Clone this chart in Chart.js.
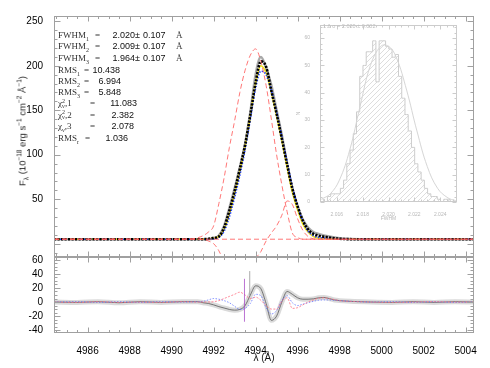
<!DOCTYPE html>
<html><head><meta charset="utf-8">
<script src="https://cdn.jsdelivr.net/npm/chart.js@4.4.1/dist/chart.umd.min.js"></script>
<style>
html,body{margin:0;padding:0;background:#fff;}
#wrap{position:relative;width:490px;height:368px;overflow:hidden;background:#fff;}
#main{position:absolute;left:0;top:0;}
#inset{position:absolute;left:296px;top:18px;}
.t{position:absolute;font-size:9px;line-height:10px;white-space:nowrap;}
.lab{font-family:"Liberation Serif","DejaVu Serif",serif;color:#333;}
.num{font-family:"Liberation Sans",Arial,sans-serif;color:#111;}
.t sub,.t sup{font-size:6px;line-height:0;}
.ss{display:inline-block;vertical-align:middle;line-height:5px;font-size:6px;text-align:left;}
#ytitle{position:absolute;left:22px;top:131px;transform:translate(-50%,-50%) rotate(-90deg);font-family:"Liberation Sans",Arial,sans-serif;font-size:9.5px;color:#222;white-space:nowrap;}
#ytitle sub,#ytitle sup{font-size:6.5px;line-height:0;}
#itext{position:absolute;left:323px;top:23px;font-family:"Liberation Sans",Arial,sans-serif;font-size:5.5px;color:#bdbdbd;white-space:nowrap;}
</style></head>
<body>
<div id="wrap">
<canvas id="main" width="490" height="368"></canvas>
<canvas id="inset" width="165" height="204"></canvas>
<div id="ytitle">F<sub>λ</sub> (10<sup>−18</sup> erg s<sup>−1</sup> cm<sup>−2</sup> Å<sup>−1</sup>)</div>
<div id="itext">1 Δ σ =  2.020  ± 0.002</div>

<div class="t lab" style="top:30px;left:58px">FWHM<sub>1</sub></div><div class="t lab" style="top:30px;left:95px">=</div>
<div class="t num" style="top:30px;right:355px">2.020</div><div class="t num" style="top:30px;left:135px">±</div><div class="t num" style="top:30px;left:143px">0.107</div><div class="t lab" style="top:30px;left:176px">Å</div>

<div class="t lab" style="top:41px;left:58px">FWHM<sub>2</sub></div><div class="t lab" style="top:41px;left:95px">=</div>
<div class="t num" style="top:41px;right:355px">2.009</div><div class="t num" style="top:41px;left:135px">±</div><div class="t num" style="top:41px;left:143px">0.107</div><div class="t lab" style="top:41px;left:176px">Å</div>

<div class="t lab" style="top:52.5px;left:58px">FWHM<sub>3</sub></div><div class="t lab" style="top:52.5px;left:95px">=</div>
<div class="t num" style="top:52.5px;right:355px">1.964</div><div class="t num" style="top:52.5px;left:135px">±</div><div class="t num" style="top:52.5px;left:143px">0.107</div><div class="t lab" style="top:52.5px;left:176px">Å</div>

<div class="t lab" style="top:64.5px;left:58px">RMS<sub>1</sub></div><div class="t lab" style="top:64.5px;left:84px">=</div>
<div class="t num" style="top:64.5px;right:370px">10.438</div>

<div class="t lab" style="top:75.5px;left:58px">RMS<sub>2</sub></div><div class="t lab" style="top:75.5px;left:84px">=</div>
<div class="t num" style="top:75.5px;right:369px">6.994</div>

<div class="t lab" style="top:86.5px;left:58px">RMS<sub>3</sub></div><div class="t lab" style="top:86.5px;left:84px">=</div>
<div class="t num" style="top:86.5px;right:369px">5.848</div>

<div class="t lab" style="top:98px;left:58px">χ<span class="ss">2<br>ν</span>,1</div><div class="t lab" style="top:98px;left:90px">=</div>
<div class="t num" style="top:98px;right:353px">11.083</div>

<div class="t lab" style="top:109.5px;left:58px">χ<span class="ss">2<br>ν</span>,2</div><div class="t lab" style="top:109.5px;left:90px">=</div>
<div class="t num" style="top:109.5px;right:356px">2.382</div>

<div class="t lab" style="top:121px;left:58px">χ<sub>ν</sub>,3</div><div class="t lab" style="top:121px;left:90px">=</div>
<div class="t num" style="top:121px;right:356px">2.078</div>

<div class="t lab" style="top:132.5px;left:58px">RMS<sub>r</sub></div><div class="t lab" style="top:132.5px;left:85px">=</div>
<div class="t num" style="top:132.5px;right:362px">1.036</div>
</div>

<script>
// ---------------- data ----------------
const lam   = [4984.4,4986,4988,4990,4991,4991.5,4991.75,4992,4992.25,4992.5,4992.75,4993,4993.25,4993.5,4993.75,4994,4994.25,4994.5,4994.75,4995,4995.25,4995.5,4995.75,4996,4996.25,4996.5,4996.75,4997,4997.5,4998,4999,5000,5002,5004.4];
const obsFlux = [5,5,5,5,5,5,5,6,9,20,40,62,86,112,148,190,210,198,178,150,122,90,62,42,27,18,13,11,8,6,5,5,5,5];
const fit1  = [5,5,5,5,5,5,5.5,6.5,8,18,37,59,84,111,145,181,205,199,172,146,118,89,62,42,26,16,11,9,7,5.5,5,5,5,5];
const fit2  = [5,5,5,5,5,5,5,5.5,7,14,30,52,77,106,140,175,194,190,172,148,120,92,64,42,25,14,9,7,6,5,5,5,5,5];
const fit3  = [5,5,5,5,5,5,5.5,6,8,16,33,56,81,109,143,180,200,192,170,144,116,86,58,38,22,13,8,6,5.5,5,5,5,5,5];
const comp1 = [5,5,5,5,5.5,9,13,20,45,74,108,138,170,195,212,219,205,178,140,100,66,36,12,7,5,5,5,5,5,5,5,5,5,5];
const comp2 = [5,5,5,5,5,5,3,0,-8,-22,-45,-60,-70,-65,-50,-19,-9,3,12,20,32,48,44,28,15,8,5.5,5,5,5,5,5,5,5];
const contLam = [4984.4,5004.4];
const contVal = [5,5];

const resLam  = [4984.4,4985.5,4986.5,4987.5,4988.5,4989.5,4990.5,4991.25,4991.5,4991.75,4992,4992.25,4992.5,4992.75,4993,4993.25,4993.5,4993.75,4994,4994.25,4994.5,4994.75,4995,4995.25,4995.5,4995.75,4996,4996.25,4996.5,4996.75,4997,4997.25,4997.5,4997.75,4998,4998.5,4999.5,5000.5,5001.5,5002.5,5003.5,5004.4];
const resGray = [0,-0.5,0.5,-1,0.5,-0.5,0.5,0.5,-1,-2,-4,-6.5,-8.5,-10.5,-11.5,-10.5,-5,10,23,19,-2,-26,-20,0,15,11,6,4,4,4.5,6,6.5,5,3,2,1,0,-0.5,0.5,-0.5,0.5,0];
const resBlue = [0,0.5,-0.5,0.5,-0.5,0.5,0,0.5,1,3,5,4,2,-1,-6,-10.5,-9,-2,11,9,-8,-17,-12,2,9,-1,-5,-3,-1,1,2.5,3,3,2.5,2,1,0,0.5,-0.5,0.5,-0.5,0];
const resRed  = [0,-0.5,0.5,-0.5,0,-0.5,0.5,0,0,0,0.5,2,5,8,11,14,10,5,7,2.5,-5,-10,-10,1,6,-9,-8,-4,0,3,5.5,6,5,3.5,2,1,0,-0.5,0,0.5,0,0];
const spikeLam = [4993.47, 4993.72];
const spikeLo  = [-28, 10];
const spikeHi  = [33, 44];

const xTicks   = [4986,4988,4990,4992,4994,4996,4998,5000,5002,5004];
const topTicks = [50,100,150,200,250];
const botTicks = [-40,-20,0,20,40,60];

// inset histogram
const histX = [2.01490,2.01515,2.01540,2.01565,2.01590,2.01615,2.01640,2.01665,2.01690,2.01715,2.01740,2.01765,2.01790,2.01815,2.01840,2.01865,2.01890,2.01915,2.01940,2.01965,2.01990,2.02015,2.02040,2.02065,2.02090,2.02115,2.02140,2.02165,2.02190,2.02215,2.02240,2.02265,2.02290,2.02315,2.02340,2.02365,2.02390,2.02415,2.02440,2.02465,2.02490];
const histN = [1,0,2,3,3,3,5,8,14,19,25,33,46,50,55,55,59,44,59,59,57,56,53,54,46,38,32,26,20,14,11,8,5,3,2,2,1,0,1,1,0];
const gfitX = [2.0148,2.0155,2.0162,2.0170,2.0178,2.0186,2.0194,2.0200,2.0206,2.0214,2.0222,2.0230,2.0238,2.0246,2.0252];
const gfitN = [1,3,8,19,35,50,57,57,53,41,26,13,5,1.5,0.5];
const insetXTicks = [2.016,2.018,2.020,2.022,2.024];
const insetYTicks = [0,10,20,30,40,50,60];

// ---------------- helpers ----------------
const pts = (xs, ys) => xs.map((x, i) => ({x, y: ys[i]}));
const FONT = '"Liberation Sans", Arial, sans-serif';

function line(ctx, x1, y1, x2, y2) { ctx.beginPath(); ctx.moveTo(x1, y1); ctx.lineTo(x2, y2); ctx.stroke(); }

const framePlugin = {
  id: 'frame',
  afterDraw(chart) {
    const ctx = chart.ctx, xs = chart.scales.x;
    ctx.save();
    ctx.strokeStyle = '#a0a0a0'; ctx.lineWidth = 1;
    const L = Math.round(xs.left) + 0.5, R = Math.round(xs.right) - 0.5;
    const panels = [{s: chart.scales.y, minor: 10, major: 50}, {s: chart.scales.y2, minor: 5, major: 20}];
    for (const p of panels) {
      const s = p.s;
      const T = Math.round(s.top) + 0.5, B = Math.round(s.bottom) - 0.5;
      ctx.strokeRect(L, T, R - L, B - T);
      for (let k = 0; k <= 40; k++) {
        const v = 4984.5 + 0.5 * k;
        if (v > xs.max) break;
        const px = Math.round(xs.getPixelForValue(v)) + 0.5;
        const len = (Math.abs(v % 2) < 1e-6) ? 5 : 2.5;
        line(ctx, px, T, px, T + len); line(ctx, px, B, px, B - len);
      }
      for (let v = Math.ceil(s.min / p.minor) * p.minor; v <= s.max; v += p.minor) {
        const py = Math.round(s.getPixelForValue(v)) + 0.5;
        const len = (v % p.major === 0) ? 6 : 3;
        line(ctx, L, py, L + len, py); line(ctx, R, py, R - len, py);
      }
    }
    ctx.restore();
  }
};

const RED = 'rgba(255,95,95,0.85)';
new Chart(document.getElementById('main'), {
  type: 'line',
  data: {
    datasets: [
      {data: pts(contLam, contVal), yAxisID: 'y', borderColor: RED, borderWidth: 1, borderDash: [5, 3], pointRadius: 0},
      {data: pts(lam, comp1), yAxisID: 'y', borderColor: RED, borderWidth: 1, borderDash: [5, 3], pointRadius: 0, cubicInterpolationMode: 'monotone'},
      {data: pts(lam, comp2), yAxisID: 'y', borderColor: RED, borderWidth: 1, borderDash: [5, 3], pointRadius: 0, cubicInterpolationMode: 'monotone'},
      {data: pts(lam, fit1), yAxisID: 'y', borderColor: '#000', borderWidth: 2.6, borderDash: [2.2, 1.3], pointRadius: 0, cubicInterpolationMode: 'monotone'},
      {data: pts(lam, fit2), yAxisID: 'y', borderColor: '#2040ff', borderWidth: 1.6, borderDash: [1.5, 1.5], pointRadius: 0, cubicInterpolationMode: 'monotone'},
      {data: pts(lam, fit3), yAxisID: 'y', borderColor: '#f2e21a', borderWidth: 1.6, pointRadius: 0, cubicInterpolationMode: 'monotone'},
      {data: pts(lam, obsFlux), yAxisID: 'y', borderColor: 'rgba(140,140,140,0.75)', borderWidth: 2.5, pointRadius: 0, cubicInterpolationMode: 'monotone'},
      // residual panel
      {data: pts([spikeLam[0], spikeLam[0]], [spikeLo[0], spikeHi[0]]), yAxisID: 'y2', borderColor: 'rgba(170,80,200,0.8)', borderWidth: 1, pointRadius: 0},
      {data: pts([spikeLam[1], spikeLam[1]], [spikeLo[1], spikeHi[1]]), yAxisID: 'y2', borderColor: 'rgba(150,150,150,0.8)', borderWidth: 1, pointRadius: 0},
      {data: pts(resLam, resRed), yAxisID: 'y2', borderColor: 'rgba(255,110,130,0.8)', borderWidth: 1, borderDash: [2, 1.5], pointRadius: 0, cubicInterpolationMode: 'monotone'},
      {data: pts(resLam, resBlue), yAxisID: 'y2', borderColor: 'rgba(90,110,255,0.75)', borderWidth: 1, borderDash: [1.5, 1.5], pointRadius: 0, cubicInterpolationMode: 'monotone'},
      {data: pts(resLam, resGray), yAxisID: 'y2', borderColor: 'rgba(90,90,90,0.8)', borderWidth: 1, pointRadius: 0, cubicInterpolationMode: 'monotone'},
      {data: pts(resLam, resGray), yAxisID: 'y2', borderColor: 'rgba(150,150,150,0.35)', borderWidth: 5, pointRadius: 0, cubicInterpolationMode: 'monotone'}
    ]
  },
  options: {
    responsive: false, animation: false, devicePixelRatio: 1,
    layout: {padding: {left: 0, right: 16, top: 16, bottom: 0}},
    plugins: {legend: {display: false}, tooltip: {enabled: false}},
    scales: {
      x: {
        type: 'linear', min: 4984.4, max: 5004.4,
        afterBuildTicks: s => { s.ticks = xTicks.map(v => ({value: v})); },
        afterFit: s => { s.height = 35; },
        grid: {display: false}, border: {display: false},
        ticks: {callback: v => String(v), font: {family: FONT, size: 10}, color: '#000', padding: 4, maxRotation: 0, autoSkip: false},
        title: {display: true, text: 'λ (Å)', font: {family: FONT, size: 10}, color: '#111', padding: {top: 0, bottom: 4}}
      },
      y2: {
        type: 'linear', position: 'left', stack: 'panels', stackWeight: 76, min: -44, max: 64,
        afterBuildTicks: s => { s.ticks = botTicks.map(v => ({value: v})); },
        afterFit: s => { s.width = 54; },
        grid: {display: false}, border: {display: false},
        ticks: {font: {family: FONT, size: 10}, color: '#000', padding: 3, autoSkip: false}
      },
      y: {
        type: 'linear', position: 'left', stack: 'panels', stackWeight: 241, min: -15, max: 256,
        afterBuildTicks: s => { s.ticks = topTicks.map(v => ({value: v})); },
        afterFit: s => { s.width = 54; },
        grid: {display: false}, border: {display: false},
        ticks: {font: {family: FONT, size: 10}, color: '#000', padding: 3, autoSkip: false}
      }
    }
  },
  plugins: [framePlugin]
});

// ---------------- inset ----------------
const hatch = document.createElement('canvas');
hatch.width = 5; hatch.height = 5;
const hc = hatch.getContext('2d');
hc.strokeStyle = '#d4d4d4'; hc.lineWidth = 0.8;
hc.beginPath(); hc.moveTo(0, 5); hc.lineTo(5, 0); hc.moveTo(-1, 1); hc.lineTo(1, -1); hc.moveTo(4, 6); hc.lineTo(6, 4); hc.stroke();
const insetCtx = document.getElementById('inset').getContext('2d');
const hatchPattern = insetCtx.createPattern(hatch, 'repeat');

const insetFrame = {
  id: 'insetFrame',
  beforeDraw(chart) {
    const a = chart.chartArea, ctx = chart.ctx;
    ctx.save(); ctx.fillStyle = '#fff'; ctx.fillRect(a.left, a.top, a.right - a.left, a.bottom - a.top); ctx.restore();
  },
  afterDraw(chart) {
    const ctx = chart.ctx, xs = chart.scales.x, ys = chart.scales.y;
    const L = Math.round(xs.left) + 0.5, R = Math.round(xs.right) - 0.5, T = Math.round(ys.top) + 0.5, B = Math.round(ys.bottom) - 0.5;
    ctx.save(); ctx.strokeStyle = '#cccccc'; ctx.lineWidth = 1;
    ctx.strokeRect(L, T, R - L, B - T);
    for (let k = 0; k <= 24; k++) {
      const v = 2.0150 + 0.0005 * k;
      if (v > xs.max) break;
      const px = Math.round(xs.getPixelForValue(v)) + 0.5;
      const len = (k % 4 === 2) ? 4 : 2;
      line(ctx, px, B, px, B - len); line(ctx, px, T, px, T + len);
    }
    for (let v = 0; v <= ys.max; v += 2) {
      const py = Math.round(ys.getPixelForValue(v)) + 0.5;
      const len = (v % 10 === 0) ? 4 : 2;
      line(ctx, L, py, L + len, py); line(ctx, R, py, R - len, py);
    }
    ctx.restore();
  }
};

new Chart(insetCtx, {
  type: 'line',
  data: {
    datasets: [
      {data: pts(gfitX, gfitN), borderColor: '#d6d6d6', borderWidth: 1, pointRadius: 0, tension: 0.4},
      {data: pts(histX, histN), stepped: 'middle', borderColor: '#cdcdcd', borderWidth: 1, pointRadius: 0, fill: 'origin', backgroundColor: hatchPattern}
    ]
  },
  options: {
    responsive: false, animation: false, devicePixelRatio: 1,
    layout: {padding: {left: 0, right: 4, top: 7, bottom: 0}},
    plugins: {legend: {display: false}, tooltip: {enabled: false}},
    scales: {
      x: {
        type: 'linear', min: 2.0147, max: 2.0253,
        afterBuildTicks: s => { s.ticks = insetXTicks.map(v => ({value: v})); },
        afterFit: s => { s.height = 20; },
        grid: {display: false}, border: {display: false},
        ticks: {callback: v => v.toFixed(3), font: {family: FONT, size: 5}, color: '#b8b8b8', padding: 2, maxRotation: 0, autoSkip: false},
        title: {display: true, text: 'FWHM', font: {family: FONT, size: 5}, color: '#b8b8b8', padding: {top: 1, bottom: 0}}
      },
      y: {
        type: 'linear', min: 0, max: 64.8,
        afterBuildTicks: s => { s.ticks = insetYTicks.map(v => ({value: v})); },
        afterFit: s => { s.width = 24; },
        grid: {display: false}, border: {display: false},
        ticks: {font: {family: FONT, size: 5}, color: '#b8b8b8', padding: 2, autoSkip: false},
        title: {display: true, text: 'N', font: {family: FONT, size: 5}, color: '#b8b8b8', padding: {top: 0, bottom: 2}}
      }
    }
  },
  plugins: [insetFrame]
});
</script>
</body></html>
